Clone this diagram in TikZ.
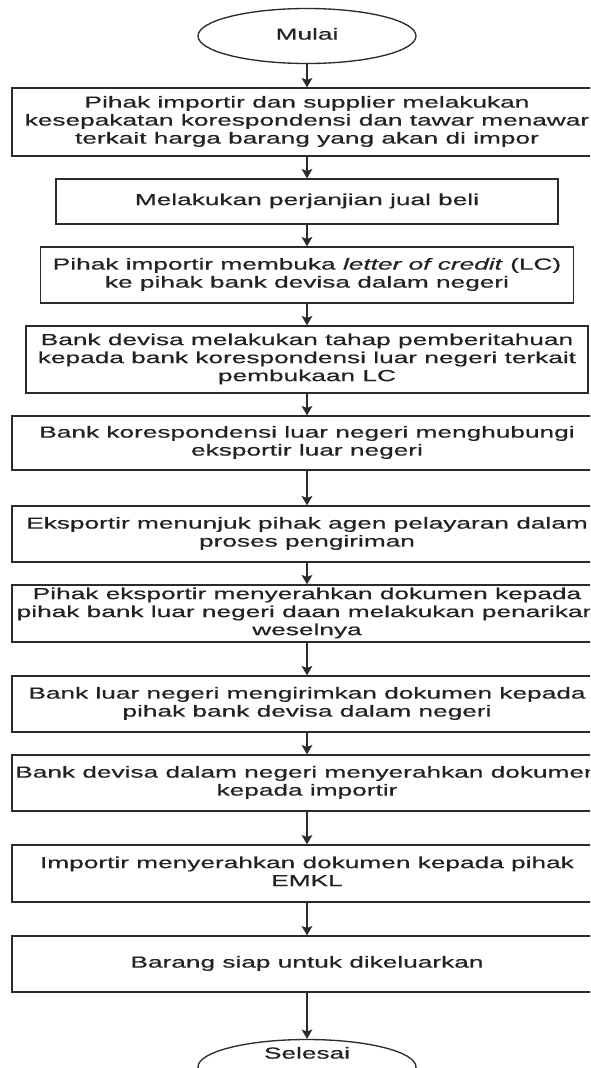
\documentclass[tikz,border=0pt]{standalone}
\usepackage{fontspec}
\setmainfont{Liberation Sans}[UprightFeatures={FakeBold=0.4},ItalicFeatures={FakeBold=0.4}]
\usepackage{graphicx}
\usetikzlibrary{shapes.geometric,arrows.meta}
\definecolor{txt}{HTML}{222222}
\definecolor{edge}{HTML}{2B2B2B}
\newcommand\st[1]{\scalebox{1.64}[1]{\fontsize{12}{13.5}\selectfont\begin{tabular}{@{}c@{}}#1\end{tabular}}}
\begin{document}
\begin{tikzpicture}[x=0.75pt,y=-0.75pt,
  stepbox/.style={draw=edge,line width=1pt,fill=white,rectangle,inner sep=0pt,text=txt},
  term/.style={draw=edge,line width=1pt,fill=white,ellipse,inner sep=0pt,text=txt,minimum width=163.5pt,minimum height=41.25pt},
  arr/.style={draw=edge,line width=1.1pt,-{Stealth[length=7pt,width=8pt,inset=1.5pt]}}]
\clip (0,0) rectangle (590,1068);
\useasboundingbox (0,0) rectangle (590,1068);
\fill[white] (0,0) rectangle (590,1068);
\node[term] (mulai) at (307,36) {\st{Mulai}};
\node[stepbox,minimum width=442.5pt,minimum height=51pt] (b1) at (307,122) {\st{Pihak importir dan supplier melakukan\\kesepakatan korespondensi dan tawar menawar\\terkait harga barang yang akan di impor}};
\node[stepbox,minimum width=376.5pt,minimum height=33.75pt] (b2) at (307,201.5) {\st{Melakukan perjanjian jual beli}};
\node[stepbox,minimum width=399.75pt,minimum height=42pt] (b3) at (307,275) {\st{Pihak importir membuka \textit{letter of credit} (LC)\\ke pihak bank devisa dalam negeri}};
\node[stepbox,minimum width=421.5pt,minimum height=50.25pt] (b4) at (307,359.5) {\st{Bank devisa melakukan tahap pemberitahuan\\kepada bank korespondensi luar negeri terkait\\pembukaan LC}};
\node[stepbox,minimum width=442.5pt,minimum height=40.5pt] (b5) at (307,443) {\st{Bank korespondensi luar negeri menghubungi\\eksportir luar negeri}};
\node[stepbox,minimum width=442.5pt,minimum height=42pt] (b6) at (307,534) {\st{Eksportir menunjuk pihak agen pelayaran dalam\\proses pengiriman}};
\node[stepbox,minimum width=442.5pt,minimum height=42.75pt] (b7) at (307,613.5) {\st{Pihak eksportir menyerahkan dokumen kepada\\pihak bank luar negeri daan melakukan penarikan\\weselnya}};
\node[stepbox,minimum width=442.5pt,minimum height=42pt] (b8) at (307,704) {\st{Bank luar negeri mengirimkan dokumen kepada\\pihak bank devisa dalam negeri}};
\node[stepbox,minimum width=442.5pt,minimum height=42pt] (b9) at (307,783) {\st{Bank devisa dalam negeri menyerahkan dokumen\\kepada importir}};
\node[stepbox,minimum width=442.5pt,minimum height=42.75pt] (b10) at (307,873.5) {\st{Importir menyerahkan dokumen kepada pihak\\EMKL}};
\node[stepbox,minimum width=442.5pt,minimum height=42pt] (b11) at (307,964) {\st{Barang siap untuk dikeluarkan}};
\node[term] (selesai) at (307,1067) {};
\node[text=txt,inner sep=0pt] (seltext) at (307,1055) {\st{Selesai}};
\draw[arr] (mulai) -- (b1);
\draw[arr] (b1) -- (b2);
\draw[arr] (b2) -- (b3);
\draw[arr] (b3) -- (b4);
\draw[arr] (b4) -- (b5);
\draw[arr] (b5) -- (b6);
\draw[arr] (b6) -- (b7);
\draw[arr] (b7) -- (b8);
\draw[arr] (b8) -- (b9);
\draw[arr] (b9) -- (b10);
\draw[arr] (b10) -- (b11);
\draw[arr] (b11) -- (selesai);
\end{tikzpicture}
\end{document}
